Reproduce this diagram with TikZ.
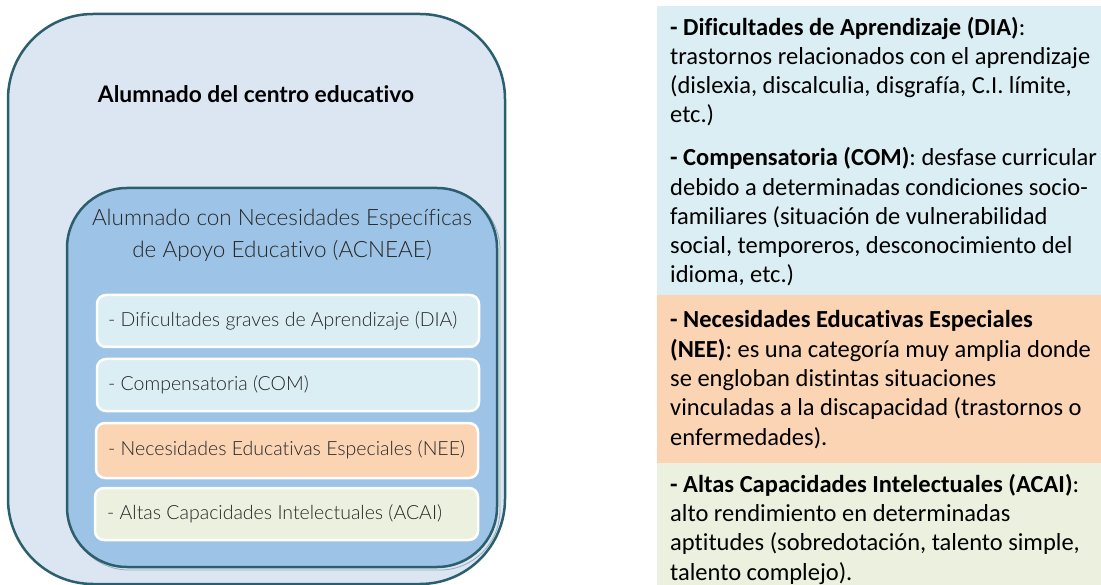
\documentclass[tikz,border=0pt]{standalone}
\usepackage{fontspec}
\setmainfont[Ligatures=NoCommon]{Carlito}
\newfontfamily\titlefont[Ligatures=NoCommon]{Lato}
\newfontfamily\lightfont[Ligatures=NoCommon]{Lato Light}
\definecolor{outerfill}{HTML}{DCE6F2}
\definecolor{teal}{HTML}{2B5F6E}
\definecolor{innerfill}{HTML}{9DC3E6}
\definecolor{bluebox}{HTML}{DAEEF3}
\definecolor{orangebox}{HTML}{FBD4B4}
\definecolor{greenbox}{HTML}{EBF1DE}
\definecolor{graytext}{HTML}{262626}
\tikzset{
  itembox/.style={draw=white, line width=2.5pt, rounded corners=9pt},
  itemtext/.style={anchor=west, inner sep=0pt, font=\lightfont\fontsize{19.5}{22}\selectfont, text=graytext},
  paratext/.style={anchor=base west, inner sep=0pt, align=left, font=\fontsize{24.5}{29.3}\selectfont}
}
\begin{document}
\begin{tikzpicture}[x=1pt,y=-1pt]
\useasboundingbox (0,0) rectangle (1101,585);
% outer
\draw[fill=outerfill, draw=teal, line width=2.5pt, rounded corners=85pt] (8,14) rectangle (505,584);
\node[font=\titlefont\bfseries\fontsize{22.8}{26}\selectfont] (title) at (256,94) {Alumnado del centro educativo};
% inner
\draw[draw=teal!50, line width=0.8pt, rounded corners=60pt] (69,190) rectangle (500,570);
\draw[fill=innerfill, draw=teal, line width=2.5pt, rounded corners=60pt] (67,188) rectangle (497,567);
\node[align=center, font=\lightfont\fontsize{22.5}{32}\selectfont, text=graytext] (acneae) at (282,235) {Alumnado con Necesidades Específicas\\de Apoyo Educativo (ACNEAE)};
% items
\draw[itembox, fill=bluebox] (97,295) rectangle (479,347);
\node[itemtext] (dia) at (108,321) {- Dificultades graves de Aprendizaje (DIA)};
\draw[itembox, fill=bluebox] (97,359) rectangle (479,411);
\node[itemtext] (com) at (108,385) {- Compensatoria (COM)};
\draw[itembox, fill=orangebox] (96,423) rectangle (478,478);
\node[itemtext] (nee) at (108,450) {- Necesidades Educativas Especiales (NEE)};
\draw[itembox, fill=greenbox] (95,488) rectangle (478,540);
\node[itemtext] (acai) at (107,514) {- Altas Capacidades Intelectuales (ACAI)};
% right panels
\fill[bluebox] (657,6) rectangle (1101,295);
\fill[orangebox] (657,295) rectangle (1101,463);
\fill[greenbox] (657,463) rectangle (1101,585);
\node[paratext] (p1) at (670,123) {\textbf{- Dificultades de Aprendizaje (DIA)}:\\trastornos relacionados con el aprendizaje\\(dislexia, discalculia, disgrafía, C.I. límite,\\etc.)};
\node[paratext] (p2) at (670,283) {\textbf{- Compensatoria (COM)}: desfase curricular\\debido a determinadas condiciones socio-\\familiares (situación de vulnerabilidad\\social, temporeros, desconocimiento del\\idioma, etc.)};
\node[paratext] (p3) at (670,445) {\textbf{- Necesidades Educativas Especiales}\\\textbf{(NEE)}: es una categoría muy amplia donde\\se engloban distintas situaciones\\vinculadas a la discapacidad (trastornos o\\enfermedades).};
\node[paratext] (p4) at (670,580) {\textbf{- Altas Capacidades Intelectuales (ACAI)}:\\alto rendimiento en determinadas\\aptitudes (sobredotación, talento simple,\\talento complejo).};
\end{tikzpicture}
\end{document}
